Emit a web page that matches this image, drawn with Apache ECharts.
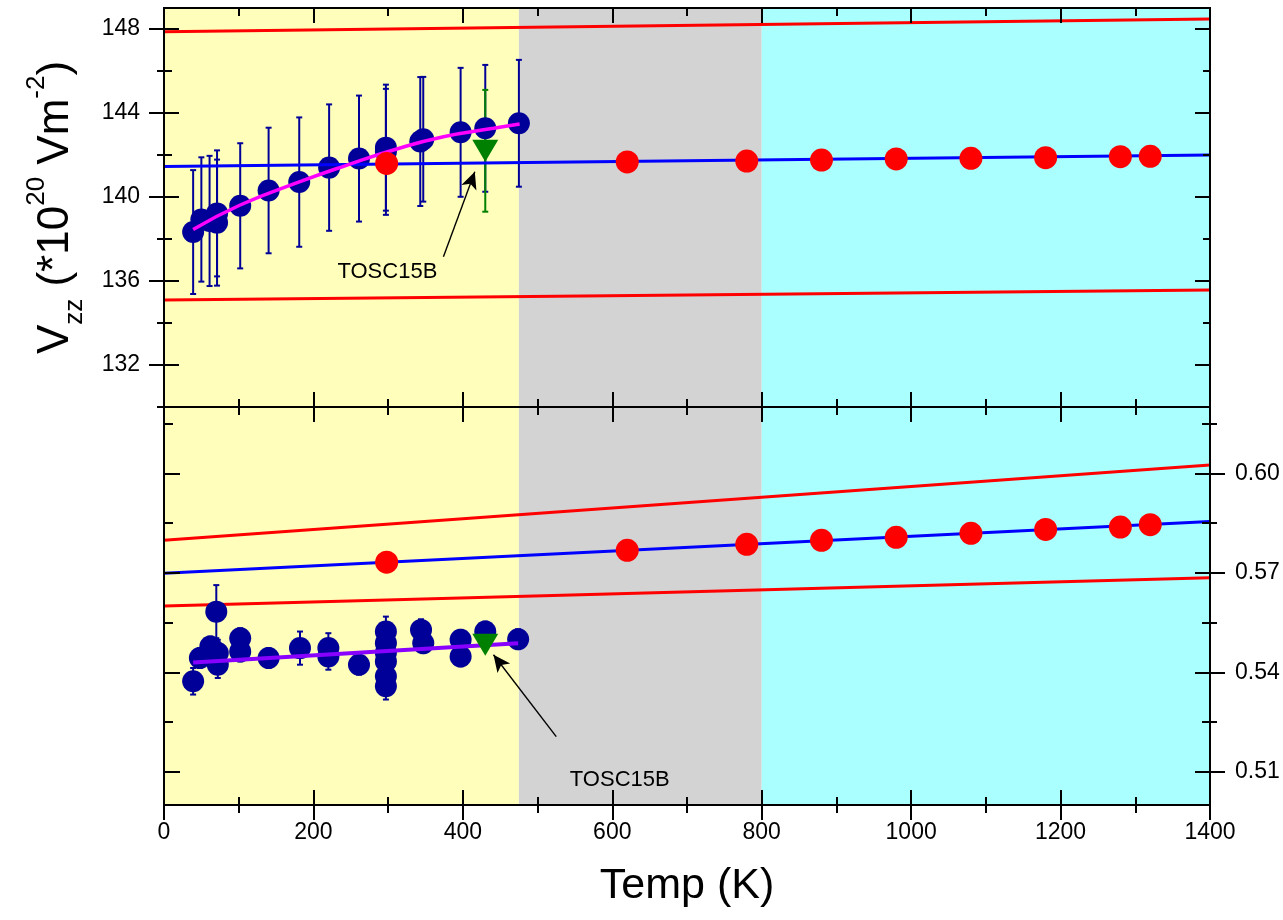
<!DOCTYPE html>
<html><head><meta charset="utf-8">
<script src="https://cdn.jsdelivr.net/npm/echarts@6/dist/echarts.min.js"></script>
<style>html,body{margin:0;padding:0;background:#fff}#c{width:1283px;height:920px}</style>
</head><body><div id="c"></div>
<script>
// ---------- data ----------
const topMajorTicks = [132, 136, 140, 144, 148];
const topMinorTicks = [130, 134, 138, 142, 146];
const botMajorTicks = [0.51, 0.54, 0.57, 0.60];
const botMinorTicks = [0.525, 0.555, 0.585, 0.615];

const bandEdges = [0, 475, 800, 1400];
const bandColors = ['#FFFFBB', '#D3D3D3', '#AAFFFF'];

const fitT = [0, 1400];
const topFit = [141.45, 142.0];
const topUpper = [147.87, 148.48];
const topLower = [135.10, 135.57];
const botFit = [0.5699, 0.5855];
const botUpper = [0.5798, 0.6025];
const botLower = [0.5600, 0.5685];

const redT = [298, 620, 780, 880, 980, 1080, 1180, 1280, 1320];
const redTop = [141.60, 141.67, 141.71, 141.76, 141.81, 141.84, 141.87, 141.92, 141.94];
const redBot = [0.5732, 0.5768, 0.5786, 0.5798, 0.5807, 0.5819, 0.5831, 0.5838, 0.5845];

const blueTopT   = [39, 50, 61, 71, 71, 102, 140, 181, 221, 261, 297, 297, 343, 347, 397, 430, 475];
const blueTopV   = [138.33, 138.93, 138.86, 139.22, 138.78, 139.58, 140.31, 140.71, 141.40, 141.83, 142.35, 142.15, 142.64, 142.75, 143.08, 143.27, 143.51];
const blueTopErr = [2.95, 2.96, 3.10, 3.0, 3.0, 2.98, 2.99, 3.08, 3.01, 3.0, 3.0, 3.0, 3.07, 2.97, 3.07, 3.02, 3.02];

const blueBotT   = [39, 48, 62, 65, 70, 72, 72, 102, 102, 140, 182, 220, 220, 261, 297, 297, 297, 297, 297, 297, 344, 347, 397, 397, 430, 474];
const blueBotV   = [0.5373, 0.5443, 0.5478, 0.5470, 0.5583, 0.5458, 0.5423, 0.5503, 0.5463, 0.5443, 0.5473, 0.5473, 0.5448, 0.5423, 0.5523, 0.5488, 0.5459, 0.5433, 0.5388, 0.5358, 0.5528, 0.5488, 0.5498, 0.5448, 0.5523, 0.5500];
const blueBotErr = [0.004, 0.003, 0.003, 0.003, 0.008, 0.004, 0.004, 0.003, 0.003, 0.003, 0.005, 0.0045, 0.004, 0.003, 0.0045, 0.004, 0.004, 0.004, 0.004, 0.004, 0.0032, 0.003, 0.003, 0.003, 0.003, 0.003];

const curveTopT = [39, 102, 182, 245, 307, 374, 441, 476];
const curveTopV = [138.45, 139.62, 140.73, 141.52, 142.24, 142.87, 143.27, 143.48];
const lineBotT = [39, 474];
const lineBotV = [0.5430, 0.5488];

const greenT = [430];
const greenTop = [142.2];
const greenTopErr = [2.9];
const greenBot = [0.5483];
const greenBotErr = [0.0015];

const noteText = ['TOSC15B', 'TOSC15B'];
const noteAt   = [[299, 136.44], [610, 0.5075]];
const noteFrom = [[374, 137.16], [525, 0.5206]];
const noteTo   = [[416, 141.20], [441, 0.5453]];

// ---------- helpers ----------
const zip = (a, b) => a.map((v, i) => [v, b[i]]);
const zip3 = (a, b, c) => a.map((v, i) => [v, b[i], c[i]]);
const FONT = 'Liberation Sans, Arial, sans-serif';
const black = '#000';
const TICK_FS = 23;

function xAx(grid, pos, inside, extra) {
  return Object.assign({
    type: 'value', gridIndex: grid, position: pos, min: 0, max: 1400, interval: 200,
    axisLine: { show: true, onZero: false, lineStyle: { color: black, width: 2 } },
    axisTick: { show: true, inside: inside, length: 15, lineStyle: { color: black, width: 2 } },
    minorTick: { show: true, splitNumber: 2, length: 8, lineStyle: { color: black, width: 2 } },
    axisLabel: { show: false }, splitLine: { show: false }, minorSplitLine: { show: false }, z: 10
  }, extra || {});
}
function yAx(grid, pos, min, max, ticks, len, inside, extra) {
  return Object.assign({
    type: 'value', gridIndex: grid, position: pos, min: min, max: max,
    axisLine: { show: true, onZero: false, lineStyle: { color: black, width: 2 } },
    axisTick: { show: true, inside: inside, length: len, customValues: ticks, lineStyle: { color: black, width: 2 } },
    axisLabel: { show: false }, splitLine: { show: false }, z: 10
  }, extra || {});
}
function errRender(color, capW, lw) {
  return function (params, api) {
    const x = api.value(0), y = api.value(1), e = api.value(2);
    const hi = api.coord([x, y + e]), lo = api.coord([x, y - e]);
    const style = { stroke: color, lineWidth: lw };
    return { type: 'group', children: [
      { type: 'line', shape: { x1: hi[0], y1: hi[1], x2: lo[0], y2: lo[1] }, style: style },
      { type: 'line', shape: { x1: hi[0] - capW, y1: hi[1], x2: hi[0] + capW, y2: hi[1] }, style: style },
      { type: 'line', shape: { x1: lo[0] - capW, y1: lo[1], x2: lo[0] + capW, y2: lo[1] }, style: style }
    ] };
  };
}
const bandData = bandColors.map((c, i) => [
  { xAxis: bandEdges[i], itemStyle: { color: c, opacity: 1 } }, { xAxis: bandEdges[i + 1] }
]);
function lineS(xi, yi, data, color, width, smooth, z) {
  return { type: 'line', xAxisIndex: xi, yAxisIndex: yi, data: data, showSymbol: false, symbol: 'none',
    smooth: !!smooth, lineStyle: { color: color, width: width }, itemStyle: { color: color }, z: z || 3, silent: true };
}
function scatterS(xi, yi, data, color, size, z, extra) {
  return Object.assign({ type: 'scatter', xAxisIndex: xi, yAxisIndex: yi, data: data, symbolSize: size,
    itemStyle: { color: color, opacity: 1 }, z: z, silent: true }, extra || {});
}
function errS(xi, yi, data, color, capW, lw, z) {
  return { type: 'custom', xAxisIndex: xi, yAxisIndex: yi, data: data, encode: { x: 0, y: 1 },
    renderItem: errRender(color, capW, lw), z: z, silent: true };
}
function noteS(xi, yi, k) {
  return { type: 'line', xAxisIndex: xi, yAxisIndex: yi, data: [noteFrom[k]], symbol: 'none', showSymbol: false,
    lineStyle: { opacity: 0 }, itemStyle: { color: black }, z: 8, silent: true,
    markLine: { silent: true, symbol: ['none', 'arrow'], symbolSize: [12, 17], animation: false,
      itemStyle: { color: black }, emphasis: { disabled: true },
      lineStyle: { color: black, width: 1.4, type: 'solid' }, label: { show: false },
      data: [[{ coord: noteFrom[k] }, { coord: noteTo[k] }]] },
    markPoint: { silent: true, symbol: 'circle', symbolSize: 0, animation: false,
      label: { show: true, position: 'inside', formatter: noteText[k], color: black, fontSize: 22, fontFamily: FONT },
      data: [{ coord: noteAt[k] }] } };
}

// ---------- option ----------
const option = {
  animation: false,
  backgroundColor: '#fff',
  textStyle: { fontFamily: FONT },
  grid: [
    { left: 164, right: 73, top: 8, height: 399 },
    { left: 164, right: 73, top: 407, height: 398 }
  ],
  xAxis: [
    xAx(0, 'bottom', true),
    xAx(0, 'top', true),
    xAx(1, 'bottom', false, {
      axisLabel: { show: true, color: black, fontSize: TICK_FS, fontFamily: FONT, margin: 16, formatter: v => String(v) },
      name: 'Temp (K)', nameLocation: 'middle', nameGap: 60,
      nameTextStyle: { color: black, fontSize: 43, fontFamily: FONT }
    }),
    xAx(1, 'bottom', true),
    xAx(1, 'top', true)
  ],
  yAxis: [
    yAx(0, 'left', 130, 149, topMajorTicks, 15, false, {
      axisLabel: { show: true, customValues: topMajorTicks, color: black, fontSize: TICK_FS, fontFamily: FONT, margin: 24 },
      name: '{v|V}{s|zz}{v| (*10}{p|20}{v| Vm}{p|-2}{v|)}', nameLocation: 'middle', nameRotate: 90, nameGap: 76,
      nameTextStyle: { color: black, fontFamily: FONT, rich: {
        v: { fontSize: 44, fontFamily: FONT, color: black, lineHeight: 64, verticalAlign: 'middle' },
        s: { fontSize: 26, fontFamily: FONT, color: black, lineHeight: 26, verticalAlign: 'bottom' },
        p: { fontSize: 26, fontFamily: FONT, color: black, lineHeight: 26, verticalAlign: 'top' }
      } }
    }),
    yAx(0, 'left', 130, 149, topMajorTicks, 15, true),
    yAx(0, 'left', 130, 149, topMinorTicks, 7, false),
    yAx(0, 'left', 130, 149, topMinorTicks, 8, true),
    yAx(0, 'right', 130, 149, topMajorTicks, 15, true),
    yAx(0, 'right', 130, 149, topMinorTicks, 7, true),
    yAx(1, 'left', 0.50, 0.62, botMajorTicks, 16, true),
    yAx(1, 'left', 0.50, 0.62, botMinorTicks, 9, true),
    yAx(1, 'right', 0.50, 0.62, botMajorTicks, 15, false, {
      axisLabel: { show: true, customValues: botMajorTicks, color: black, fontSize: TICK_FS, fontFamily: FONT, margin: 25,
        formatter: v => Number(v).toFixed(2) }
    }),
    yAx(1, 'right', 0.50, 0.62, botMajorTicks, 15, true),
    yAx(1, 'right', 0.50, 0.62, botMinorTicks, 7, false),
    yAx(1, 'right', 0.50, 0.62, botMinorTicks, 8, true)
  ],
  series: [
    // background bands
    { type: 'line', xAxisIndex: 0, yAxisIndex: 0, data: [], silent: true, z: 0,
      markArea: { silent: true, animation: false, data: bandData } },
    { type: 'line', xAxisIndex: 2, yAxisIndex: 6, data: [], silent: true, z: 0,
      markArea: { silent: true, animation: false, data: bandData } },
    // top panel
    lineS(0, 0, zip(fitT, topUpper), '#FF0000', 3),
    lineS(0, 0, zip(fitT, topLower), '#FF0000', 3),
    errS(0, 0, zip3(blueTopT, blueTopV, blueTopErr), '#000099', 3, 2, 3),
    errS(0, 0, zip3(greenT, greenTop, greenTopErr), '#008000', 3, 2, 3),
    scatterS(0, 0, zip(blueTopT, blueTopV), '#000099', 22, 4),
    lineS(0, 0, zip(fitT, topFit), '#0000FF', 3, false, 5),
    lineS(0, 0, zip(curveTopT, curveTopV), '#FF00FF', 3.5, 0.4, 5),
    scatterS(0, 0, zip(redT, redTop), '#FF0000', 23, 6),
    scatterS(0, 0, zip(greenT, greenTop), '#008000', [26, 22], 6, { symbol: 'triangle', symbolRotate: 180 }),
    noteS(0, 0, 0),
    // bottom panel
    lineS(2, 6, zip(fitT, botUpper), '#FF0000', 3),
    lineS(2, 6, zip(fitT, botLower), '#FF0000', 3),
    errS(2, 6, zip3(blueBotT, blueBotV, blueBotErr), '#000099', 3, 2, 3),
    scatterS(2, 6, zip(blueBotT, blueBotV), '#000099', 22, 4),
    lineS(2, 6, zip(fitT, botFit), '#0000FF', 3, false, 5),
    lineS(2, 6, zip(lineBotT, lineBotV), '#8800FF', 4, false, 5),
    scatterS(2, 6, zip(redT, redBot), '#FF0000', 23, 6),
    scatterS(2, 6, zip(greenT, greenBot), '#008000', [26, 22], 6, { symbol: 'triangle', symbolRotate: 180 }),
    noteS(2, 6, 1)
  ]
};
const chart = echarts.init(document.getElementById('c'), null, { renderer: 'canvas' });
chart.setOption(option);
</script></body></html>
